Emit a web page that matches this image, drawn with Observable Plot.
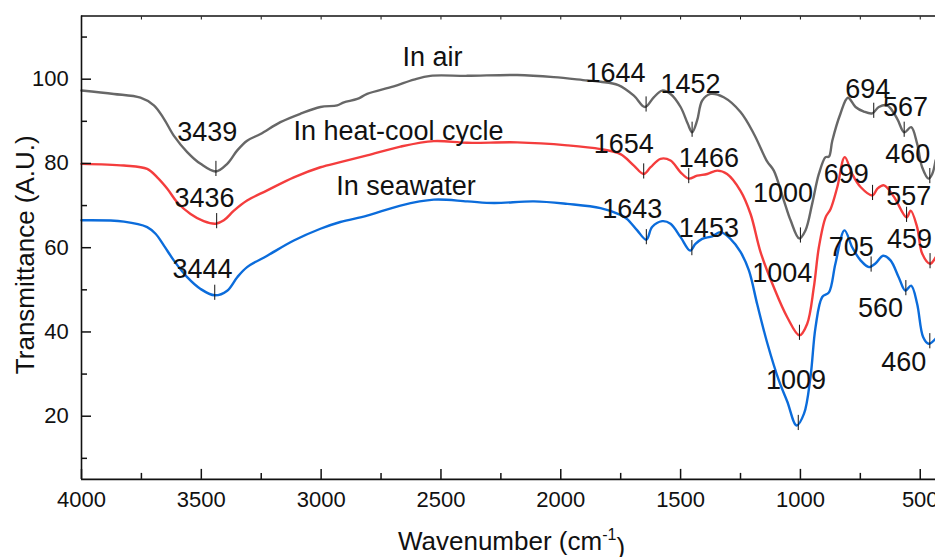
<!DOCTYPE html>
<html><head><meta charset="utf-8">
<script src="https://cdn.jsdelivr.net/npm/d3@7"></script>
<script src="https://cdn.jsdelivr.net/npm/@observablehq/plot@0.6"></script>
<style>
html,body{margin:0;padding:0;background:#fff;overflow:hidden}
#chart svg{display:block}
</style></head><body><div id="chart"></div>
<script>
// ---- data ----
const seriesNames = ["In air", "In heat-cool cycle", "In seawater"];
const seriesColors = ["#676767", "#f43d3d", "#0b6cdb"];

const airWn = [4000,3865,3754,3698,3656,3615,3559,3503,3439,3392,3350,3309,3253,3170,3086,3003,2933,2905,2849,2808,2697,2613,2544,2390,2182,2029,1890,1834,1760,1695,1649,1612,1577,1542,1500,1470,1452,1431,1410,1375,1320,1250,1194,1139,1111,1069,1041,1005,979,951,923,895,881,867,833,802,770,735,700,673,638,596,567,538,513,492,465,450,436];
const airT  = [97.3,96.5,95.6,93.8,90.6,86.6,82.7,79.9,78.1,79.9,83.1,85.4,87.0,89.8,91.8,93.4,93.8,94.5,95.3,96.5,98.3,99.9,100.8,100.8,101.0,100.5,99.7,99.4,98.6,96.1,93.4,95.7,97.3,96.5,93.4,89.4,87.4,90.2,94.9,96.5,95.7,92.2,87.0,80.5,78.3,71.2,66.5,62.2,64.1,70.4,77.5,81.5,81.6,85.4,91.8,95.6,93.4,92.3,91.9,93.4,93.8,90.6,87.4,88.6,84.7,79.1,76.4,77.5,80.7];

const heatWn = [4000,3823,3726,3684,3642,3601,3545,3490,3440,3406,3364,3309,3225,3114,3003,2920,2808,2669,2530,2390,2182,1973,1834,1751,1695,1654,1625,1584,1542,1500,1466,1431,1389,1347,1306,1250,1208,1166,1111,1055,1004,972,944,923,895,874,846,815,784,749,699,679,651,609,557,540,513,492,459,436];
const heatT  = [79.9,79.5,78.7,76.7,74.0,70.8,68.0,66.3,65.7,66.5,68.8,71.2,73.6,76.7,79.1,80.3,81.9,84.0,85.3,84.9,85.0,84.3,83.4,82.2,79.5,77.5,79.1,81.1,80.7,77.9,76.4,77.1,77.5,78.3,77.5,73.5,68.0,58.9,50.6,43.5,39.2,41.9,50.6,60.1,67.2,69.2,74.4,81.5,77.5,74.4,72.4,74.0,74.8,72.0,67.2,68.8,64.9,58.6,56.2,57.7];

const seaWn = [4000,3823,3726,3691,3656,3615,3559,3503,3444,3392,3350,3309,3225,3114,3003,2920,2808,2669,2530,2390,2279,2112,1973,1834,1751,1723,1681,1643,1619,1577,1542,1500,1460,1438,1410,1368,1333,1292,1250,1215,1180,1139,1090,1055,1016,985,958,937,909,881,854,816,784,749,714,686,655,624,590,562,538,513,488,465,436];
const seaT  = [66.5,66.2,64.9,63.3,60.5,57.0,53.0,50.2,48.7,49.8,53.0,55.4,58.1,61.7,64.5,66.1,67.6,70.0,71.4,71.0,70.6,71.0,70.4,69.4,67.8,66.8,64.1,61.9,64.9,66.3,65.7,62.5,59.3,60.9,62.1,62.7,63.7,62.1,59.0,54.6,46.5,37.5,28.5,23.5,17.8,20.6,29.3,41.1,48.3,49.4,56.2,64.1,60.1,57.0,55.4,56.3,58.1,57.0,53.0,49.8,51.0,46.7,38.8,37.2,38.4];

// peak markers: series index, wavenumber, transmittance at the band
const peakSeries = [0,0,0,0,0,0,0, 1,1,1,1,1,1,1, 2,2,2,2,2,2,2];
const peakWn     = [3439,1644,1452,1000,694,567,460, 3436,1654,1466,1004,699,557,459, 3444,1643,1453,1009,705,560,460];
const peakT      = [78.1,93.4,87.4,62.3,91.9,87.4,76.4, 65.7,77.5,76.4,39.2,72.4,67.2,56.2, 48.7,61.9,59.3,17.8,55.4,49.8,37.2];
// peak label anchors (data units)
const labelWn = [3475,1772,1459,1073,719,561,552, 3487,1737,1382,1076,809,548,545, 3495,1702,1382,1018,788,666,569];
const labelT  = [87.4,101.3,98.7,73.0,97.6,93.2,82.1, 71.8,84.5,81.3,53.8,77.4,72.2,61.9, 54.8,69.1,64.7,28.5,60.1,45.5,32.8];

// series name labels (data units)
const nameWn = [2535, 2677, 2646];
const nameT  = [105.2, 87.7, 74.6];

const xMajor = [4000,3500,3000,2500,2000,1500,1000,500];
const xMinor = [3750,3250,2750,2250,1750,1250,750];
const xTop   = [4000,3750,3500,3250,3000,2750,2500,2250,2000,1750,1500,1250,1000,750,500];
const yMajor = [20,40,60,80,100];
const yMinor = [10,30,50,70,90,110];

// ---- tables ----
const rows = [];
[[airWn, airT], [heatWn, heatT], [seaWn, seaT]].forEach(([w, t], i) => {
  w.forEach((wn, j) => rows.push({series: seriesNames[i], wn, t: t[j]}));
});
const peaks = peakWn.map((wn, i) => ({series: seriesNames[peakSeries[i]], wn, t: peakT[i], label: String(wn), lw: labelWn[i], lt: labelT[i]}));
const names = seriesNames.map((s, i) => ({s, wn: nameWn[i], t: nameT[i]}));

const font = "'Liberation Sans', Arial, Helvetica, sans-serif";
const ink = "#111";

const plot = Plot.plot({
  width: 935, height: 557,
  marginLeft: 81, marginRight: 0, marginTop: 15.5, marginBottom: 78.1,
  style: {fontFamily: font, background: "white", color: ink},
  x: {domain: [4000, 400], range: [81, 943.7]},
  y: {domain: [5, 115], range: [478.9, 15.5]},
  color: {domain: seriesNames, range: seriesColors},
  marks: [
    Plot.line(rows, {x: "wn", y: "t", z: "series", stroke: "series", strokeWidth: 2.4, curve: "catmull-rom"}),
    Plot.ruleX(peaks, {x: "wn", y1: d => d.t - 1.2, y2: d => d.t + 2.4, stroke: ink, strokeWidth: 1}),
    Plot.text(peaks, {x: "lw", y: "lt", text: "label", fontSize: 27, fill: ink, textAnchor: "middle", lineAnchor: "middle"}),
    Plot.text(names, {x: "wn", y: "t", text: "s", fontSize: 27, fill: ink, textAnchor: "middle", lineAnchor: "middle"}),
    Plot.ruleY([115], {stroke: ink, strokeWidth: 1.6}),
    Plot.ruleY([5], {stroke: ink, strokeWidth: 1.6}),
    Plot.ruleX([4000], {stroke: ink, strokeWidth: 1.6}),
    Plot.axisX({ticks: xMajor, tickSize: -10, tickPadding: 22, fontSize: 22, tickFormat: d => String(d), label: null, stroke: ink, strokeWidth: 1.5, fill: ink}),
    Plot.axisX({ticks: xMinor, tickSize: -6, text: null, label: null, stroke: ink, strokeWidth: 1.5}),
    Plot.axisX({anchor: "top", ticks: xTop, tickSize: -3, text: null, label: null, stroke: ink, strokeWidth: 1}),
    Plot.axisY({ticks: yMajor, tickSize: -10, tickPadding: 22.7, fontSize: 22, tickFormat: d => String(d), label: null, stroke: ink, strokeWidth: 1.5, fill: ink}),
    Plot.axisY({ticks: yMinor, tickSize: -6, text: null, label: null, stroke: ink, strokeWidth: 1.5}),
    Plot.text(["Transmittance (A.U.)"], {frameAnchor: "left", rotate: -90, dx: -56, dy: 7, fontSize: 26, fill: ink, textAnchor: "middle", lineAnchor: "middle"}),
    Plot.text(["Wavenumber (cm-1)"], {frameAnchor: "bottom", dx: 3, dy: 62, fontSize: 26, fill: ink, textAnchor: "middle", lineAnchor: "middle"})
  ]
});
document.getElementById("chart").appendChild(plot);

// superscript for the x-axis title
d3.select(plot).selectAll("text").filter(function () { return this.textContent === "Wavenumber (cm-1)"; })
  .each(function () {
    const t = d3.select(this);
    t.text(null);
    t.append("tspan").text("Wavenumber (cm");
    t.append("tspan").attr("font-size", 16).attr("dy", "-0.62em").text("-1");
    t.append("tspan").attr("dy", "0.62em").text(")");
  });
</script>
</body></html>
